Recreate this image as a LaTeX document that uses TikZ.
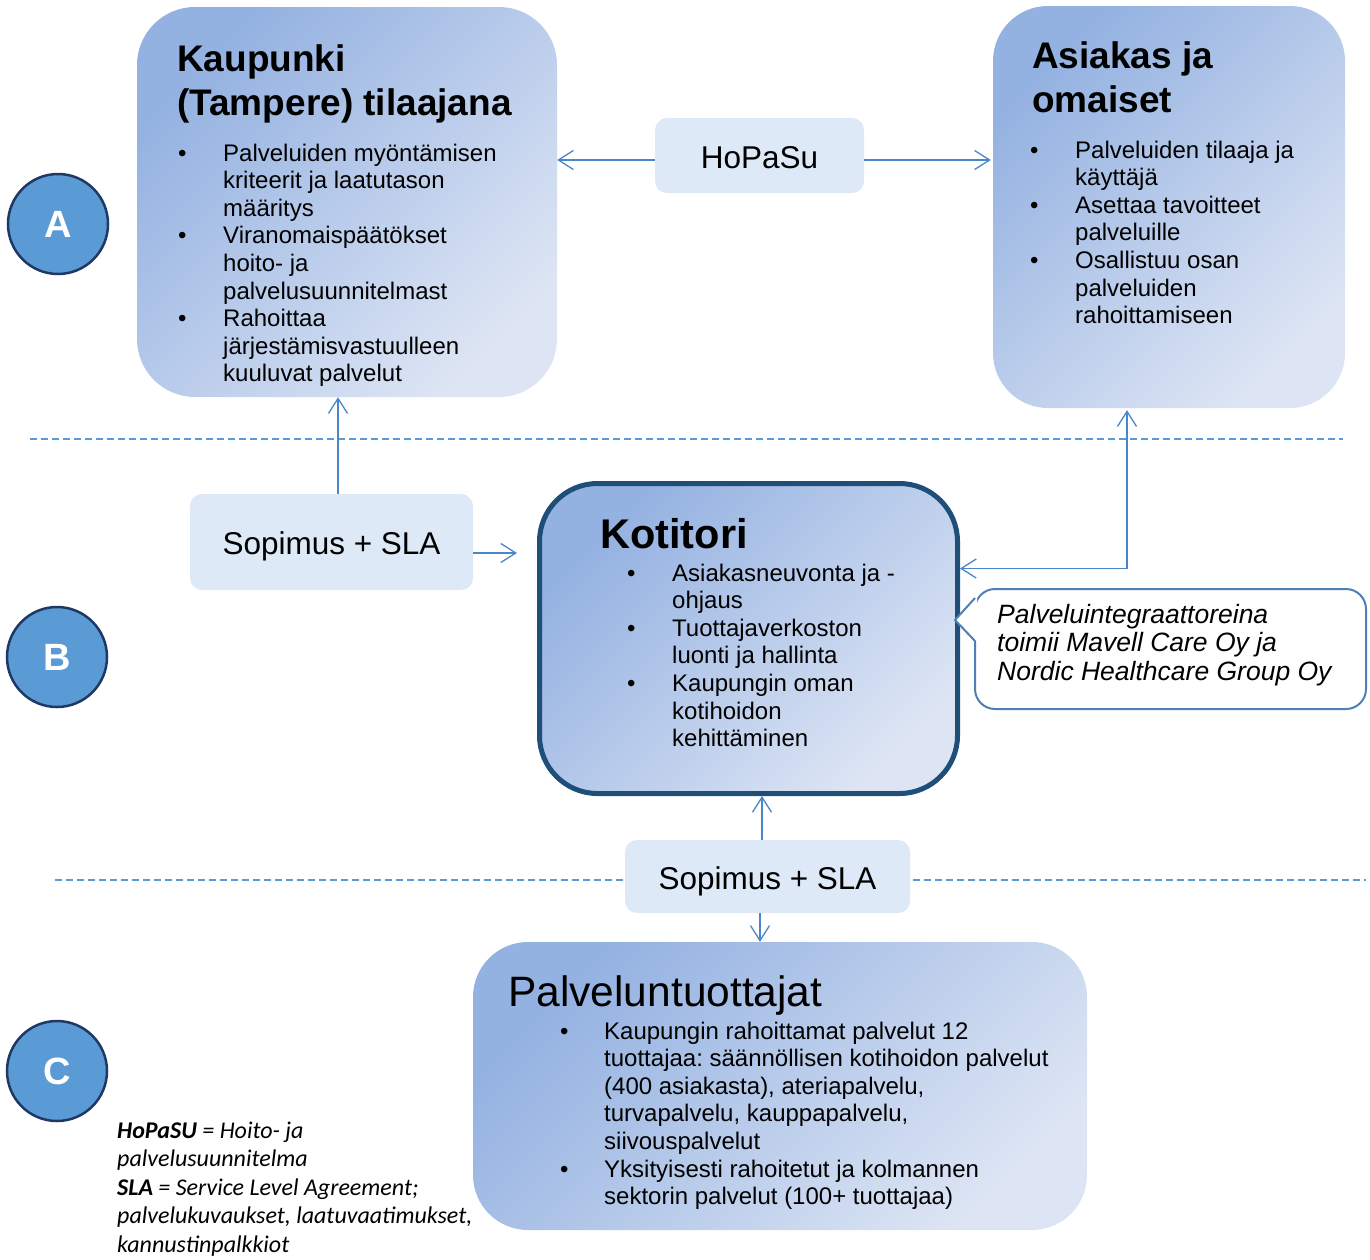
\documentclass[tikz,border=0pt]{standalone}
\usepackage{fontspec}
\setmainfont{Liberation Sans}
\newfontfamily\notefont{Carlito}
\usetikzlibrary{arrows.meta}
\frenchspacing

\definecolor{boxdark}{HTML}{93B1E1}
\definecolor{boxlight}{HTML}{DDE5F4}
\definecolor{labelfill}{HTML}{DDE9F6}
\definecolor{linkblue}{HTML}{4A86C8}
\definecolor{frameblue}{HTML}{1F4E79}
\definecolor{badge}{HTML}{5B9BD5}
\definecolor{badgeline}{HTML}{1F3864}
\definecolor{calloutline}{HTML}{4F7FB5}
\definecolor{divider}{HTML}{5B9BD5}

\newcommand{\fs}[2]{\fontsize{#1}{#2}\selectfont}
\newcommand{\blist}[2]{\begin{tabular}[t]{@{}p{#1}@{}l@{}}#2\end{tabular}}
\newcommand{\lines}[1]{\begin{tabular}[t]{@{}l@{}}#1\end{tabular}}

\begin{document}
\begin{tikzpicture}[x=1pt,y=-1pt,
  panel/.style={rounded corners=58pt, top color=boxdark, bottom color=boxlight,
    shading angle=45, inner sep=0pt, draw=none},
  tag/.style={rounded corners=12pt, fill=labelfill, inner sep=0pt, font=\fs{31.5}{36},
    text height=25.6pt, text depth=0pt},
  tipstyle/.style={-{Straight Barb[length=15pt,width=19pt,line width=1.3pt]}},
  conn/.style={draw=linkblue, line width=1.3pt, tipstyle},
  body/.style={anchor=base west, inner sep=0pt, font=\fs{24}{27.6}},
  head/.style={anchor=base west, inner sep=0pt, font=\fs{37}{44}\bfseries},
  divline/.style={draw=divider, line width=1.2pt, dash pattern=on 7pt off 4pt},
  letter/.style={circle, minimum size=100pt, inner sep=0pt, fill=badge, draw=badgeline,
    line width=2.5pt, text=white, font=\fs{38}{40}\bfseries}]

\useasboundingbox (0,0) rectangle (1370,1259);

% level dividers
\draw[divline] (30,439) -- (1343,439);
\draw[divline] (55,880) -- (1366,880);

% level badges
\node[letter] (A) at (58,224) {A};
\node[letter] (B) at (57,657) {B};
\node[letter] (C) at (57,1071) {C};

% panels
\node[panel, minimum width=420pt, minimum height=390pt] (kaup) at (347,202) {};
\node[panel, minimum width=352pt, minimum height=402pt, rounded corners=55pt] (asiakas) at (1169,207) {};
\node[panel, minimum width=418pt, minimum height=310pt, draw=frameblue, line width=5pt] (koti) at (748.5,638.5) {};
\node[panel, minimum width=614pt, minimum height=288pt, rounded corners=55pt] (palv) at (780,1086) {};

% agreement labels
\node[tag, minimum width=209pt, minimum height=75pt] (hopasu) at (759.5,155.5) {HoPaSu};
\node[tag, minimum width=283pt, minimum height=96pt] (sop1) at (331.5,542) {Sopimus + SLA};
\node[tag, minimum width=285pt, minimum height=73pt] (sop2) at (767.5,876.5) {Sopimus + SLA};

% panel texts
\node[head] (kaupT) at (177,71) {\lines{Kaupunki\\(Tampere) tilaajana}};
\node[body] (kaupL) at (178,161) {\blist{45pt}{%
  \textbullet & Palveluiden myöntämisen\\
   & kriteerit ja laatutason\\
   & määritys\\
  \textbullet & Viranomaispäätökset\\
   & hoito- ja\\
   & palvelusuunnitelmast\\
  \textbullet & Rahoittaa\\
   & järjestämisvastuulleen\\
   & kuuluvat palvelut}};

\node[head] (asiakasT) at (1032,68) {\lines{Asiakas ja\\omaiset}};
\node[body] (asiakasL) at (1030,158) {\blist{45pt}{%
  \textbullet & Palveluiden tilaaja ja\\
   & käyttäjä\\
  \textbullet & Asettaa tavoitteet\\
   & palveluille\\
  \textbullet & Osallistuu osan\\
   & palveluiden\\
   & rahoittamiseen}};

\node[head, font=\fs{41.5}{48}\bfseries] (kotiT) at (600,548) {Kotitori};
\node[body] (kotiL) at (627,581) {\blist{45pt}{%
  \textbullet & Asiakasneuvonta ja -\\
   & ohjaus\\
  \textbullet & Tuottajaverkoston\\
   & luonti ja hallinta\\
  \textbullet & Kaupungin oman\\
   & kotihoidon\\
   & kehittäminen}};

\node[head, font=\fs{42.5}{48}] (palvT) at (508,1006) {Palveluntuottajat};
\node[body] (palvL) at (560,1039) {\blist{44pt}{%
  \textbullet & Kaupungin rahoittamat palvelut 12\\
   & tuottajaa: säännöllisen kotihoidon palvelut\\
   & (400 asiakasta), ateriapalvelu,\\
   & turvapalvelu, kauppapalvelu,\\
   & siivouspalvelut\\
  \textbullet & Yksityisesti rahoitetut ja kolmannen\\
   & sektorin palvelut (100+ tuottajaa)}};

% callout on the integrators
\node[rounded corners=20pt, draw=calloutline, line width=2pt, fill=white,
  minimum width=391pt, minimum height=120pt, inner sep=0pt] (callout) at (1170.5,649) {};
\coordinate (ctip) at (955,620);
\fill[white] ([xshift=3pt,yshift=53pt]callout.west) -- (ctip) -- ([xshift=3pt,yshift=7pt]callout.west) -- cycle;
\draw[calloutline, line width=2pt, line join=miter]
  ([xshift=1pt,yshift=51pt]callout.west) -- (ctip) -- ([xshift=1pt,yshift=8pt]callout.west);
\node[body, font=\fs{26.5}{28.5}\itshape] (calloutT) at (997,623)
  {\lines{Palveluintegraattoreina\\toimii Mavell Care Oy ja\\Nordic Healthcare Group Oy}};

% connectors
\draw[conn] ([yshift=-4.5pt]hopasu.west) -- ([yshift=-4.5pt]hopasu.west -| kaup.east);
\draw[conn] ([yshift=-4.5pt]hopasu.east) -- ([yshift=-4.5pt,xshift=-2pt]hopasu.east -| asiakas.west);
\draw[conn] ([xshift=6.5pt]sop1.north) -- ([xshift=6.5pt]sop1.north |- kaup.south);
\draw[conn, shorten >=20pt] ([yshift=-11pt]sop1.east) -- ([yshift=-11pt]sop1.east -| koti.west);
\draw[conn, {Straight Barb[length=15pt,width=19pt,line width=1.3pt]}-{Straight Barb[length=15pt,width=19pt,line width=1.3pt]}]
  ([yshift=70pt]koti.east) -| ([xshift=-42pt,yshift=-2pt]asiakas.south);
\draw[conn] ([xshift=-5.5pt]sop2.north) -- ([xshift=-5.5pt]sop2.north |- koti.south);
\draw[conn] ([xshift=-7.5pt]sop2.south) -- ([xshift=-7.5pt]sop2.south |- palv.north);

% abbreviations
\node[body, font=\notefont\fs{24}{28.5}\itshape] (note) at (117,1138)
  {\lines{\textbf{HoPaSU} = Hoito- ja\\palvelusuunnitelma\\\textbf{SLA} = Service Level Agreement;\\palvelukuvaukset, laatuvaatimukset,\\kannustinpalkkiot}};

\end{tikzpicture}
\end{document}
